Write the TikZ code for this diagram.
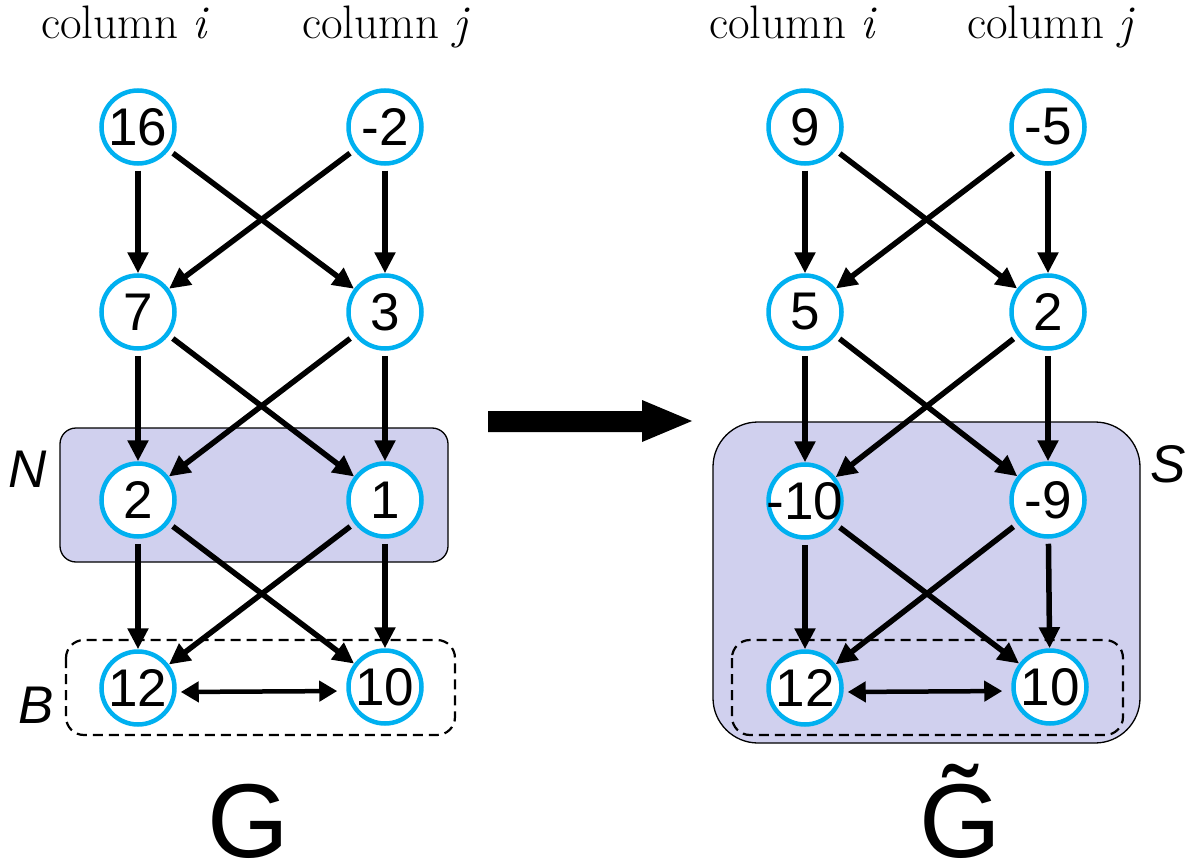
\documentclass[tikz,border=0pt]{standalone}
\usepackage{fontspec}
\newfontfamily\arialf{Liberation Sans}
\usetikzlibrary{arrows.meta}
\definecolor{boxfill}{RGB}{208,208,238}
\definecolor{ringcol}{RGB}{0,176,240}
\begin{document}
\begin{tikzpicture}[x=1pt,y=-1pt,
  vnode/.style={circle,draw=ringcol,line width=4.5pt,fill=white,minimum size=73pt,inner sep=0pt,
    font=\arialf\fontsize{53}{60}\selectfont},
  edgearr/.style={line width=5.5pt,-{Triangle[length=21pt,width=20pt]},shorten <=5pt},
  biarr/.style={line width=4.5pt,{Triangle[length=18pt,width=20pt]}-{Triangle[length=18pt,width=20pt]},shorten <=4pt,shorten >=9pt},
  setbox/.style={fill=boxfill,draw=black,line width=1.3pt},
  dashbox/.style={draw=black,line width=2.2pt,dash pattern=on 10pt off 6pt,rounded corners=18pt},
  header/.style={anchor=base,font=\fontsize{47}{52}\selectfont},
  setlabel/.style={font=\arialf\itshape\fontsize{53}{60}\selectfont},
  gname/.style={inner sep=0pt,anchor=base,font=\arialf\fontsize{105}{110}\selectfont}]
\useasboundingbox (0,0) rectangle (1194,861);
% boxes
\draw[setbox,rounded corners=16pt] (60,428) rectangle (448,562);
\draw[dashbox] (66,640) rectangle (455,735);
\draw[setbox,rounded corners=45pt] (713,422) rectangle (1140,743);
\draw[dashbox] (732,640) rectangle (1123,735);
% headers
\node[header] (hli) at (125,39) {column \textit{i}};
\node[header] (hlj) at (386,39) {column \textit{j}};
\node[header] (hri) at (793,39) {column \textit{i}};
\node[header] (hrj) at (1051,39) {column \textit{j}};
% left graph nodes
\node[vnode] (a1) at (138,127) {\makebox[0pt]{16}};
\node[vnode] (b1) at (385,127) {\makebox[0pt]{-2}};
\node[vnode] (a2) at (138,312) {\makebox[0pt]{7}};
\node[vnode] (b2) at (385,312) {\makebox[0pt]{3}};
\node[vnode] (a3) at (138,500) {\makebox[0pt]{2}};
\node[vnode] (b3) at (385,500) {\makebox[0pt]{1}};
\node[vnode] (a4) at (138,688) {\makebox[0pt]{12}};
\node[vnode] (b4) at (385,687) {\makebox[0pt]{10}};
% right graph nodes
\node[vnode] (c1) at (805,127) {\makebox[0pt]{9}};
\node[vnode] (d1) at (1048,127) {\makebox[0pt]{-5}};
\node[vnode] (c2) at (805,312) {\makebox[0pt]{5}};
\node[vnode] (d2) at (1048,312) {\makebox[0pt]{2}};
\node[vnode] (c3) at (805,501) {\makebox[0pt]{-10}};
\node[vnode] (d3) at (1048,500) {\makebox[0pt]{-9}};
\node[vnode] (c4) at (805,688) {\makebox[0pt]{12}};
\node[vnode] (d4) at (1050,687) {\makebox[0pt]{10}};
% edges
\foreach \u/\v in {a1/a2,a1/b2,b1/a2,b1/b2,a2/a3,a2/b3,b2/a3,b2/b3,a3/a4,a3/b4,b3/a4,b3/b4,
                   c1/c2,c1/d2,d1/c2,d1/d2,c2/c3,c2/d3,d2/c3,d2/d3,c3/c4,c3/d4,d3/c4,d3/d4}
  \draw[edgearr] (\u) -- (\v);
\draw[biarr] ([yshift=-4pt]a4.east) -- ([yshift=-4pt]b4.west);
\draw[biarr] ([yshift=-4pt]c4.east) -- ([yshift=-4pt]d4.west);
% set labels
\node[setlabel] (lN) at (28,469) {N};
\node[setlabel] (lB) at (36,705) {B};
\node[setlabel] (lS) at (1168,464) {S};
% graph names
\node[gname] (gG) at (248,857) {G};
\node[gname] (gGt) at (960,857) {\~{G}};
% big arrow
\fill[black] (488,411) -- (642,411) -- (642,400) -- (692,421) -- (642,442) -- (642,432) -- (488,432) -- cycle;
\end{tikzpicture}
\end{document}
